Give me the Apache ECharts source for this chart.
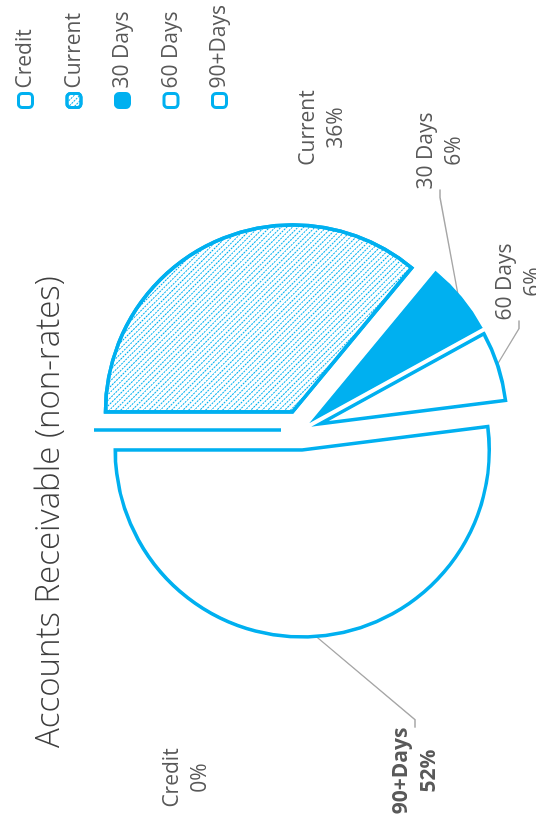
<!DOCTYPE html>
<html>
<head>
<meta charset="utf-8">
<script src="https://cdn.jsdelivr.net/npm/echarts@6/dist/echarts.min.js"></script>
<style>
  html, body { margin: 0; padding: 0; width: 536px; height: 817px; overflow: hidden; background: #fff; }
  /* chart is drawn landscape, then turned a quarter to the left like the reference */
  #chart { position: absolute; left: 0; top: 0; width: 817px; height: 536px;
           transform-origin: 0 0; transform: translateY(817px) rotate(-90deg); }
</style>
</head>
<body>
<div id="chart"></div>
<script>
  const categories = ['Credit', 'Current', '30 Days', '60 Days', '90+Days'];
  const values = [0, 36, 6, 6, 52];

  const blue = '#00B0F0';
  const grey = '#595959';

  // label anchors (landscape px), Excel put them by hand
  const labelSpots = [[39, 186], [689, 322], [666, 440], [535, 519], [46, 415]];

  const fills = {
    'Credit': { color: '#fff' },
    'Current': { color: '#fff', decal: { symbol: 'rect', symbolSize: 1, dashArrayX: [1.6, 0.9], dashArrayY: [1, 2.2], rotation: Math.PI / 4, color: blue } },
    '30 Days': { color: blue },
    '60 Days': { color: '#fff' },
    '90+Days': { color: '#fff' }
  };

  let myChart = echarts.init(document.getElementById('chart'));
  let option = {
    backgroundColor: '#fff',
    title: {
      text: 'Accounts Receivable (non-rates)',
      left: 64,
      top: 28,
      textStyle: { fontFamily: 'Open Sans', fontSize: 33, fontWeight: 300, color: '#404040' }
    },
    legend: {
      orient: 'vertical',
      left: 703,
      top: 10,
      itemWidth: 14,
      itemHeight: 14,
      itemGap: 27.5,
      icon: 'roundRect',
      data: categories,
      itemStyle: { borderWidth: 3 },
      textStyle: { fontFamily: 'Open Sans', fontSize: 21, color: grey },
      selectedMode: false
    },
    series: [{
      // the exploded slices
      type: 'pie',
      center: [387, 301],
      radius: 187,
      startAngle: 90,
      clockwise: true,
      selectedMode: 'multiple',
      selectedOffset: 20,
      emphasis: { disabled: true },
      animation: false,
      itemStyle: { borderColor: blue, borderWidth: 3.5, borderJoin: 'miter', borderCap: 'round' },
      label: { show: false },
      labelLine: { show: false },
      data: categories.map(function (name, i) {
        return { name: name, value: values[i], selected: true, itemStyle: fills[name] };
      })
    }, {
      // same data, carries the data labels (selected state would pin them)
      type: 'pie',
      center: [387, 301],
      radius: 205,
      startAngle: 90,
      clockwise: true,
      silent: true,
      animation: false,
      selectedMode: false,
      emphasis: { disabled: true },
      itemStyle: { color: 'rgba(0,0,0,0)', borderWidth: 0 },
      label: {
        formatter: '{b}\n{d}%',
        fontFamily: 'Open Sans',
        fontSize: 21,
        lineHeight: 28,
        color: grey,
        align: 'center'
      },
      labelLine: { lineStyle: { color: '#A6A6A6', width: 1.3 }, length: 20, length2: 8 },
      labelLayout: function (params) {
        const p = labelSpots[params.dataIndex];
        return { x: p[0], y: p[1], align: 'center', verticalAlign: 'middle' };
      },
      data: categories.map(function (name, i) {
        return {
          name: name,
          value: values[i],
          label: name === '90+Days' ? { fontWeight: 'bold' } : {},
          labelLine: { show: name === '30 Days' || name === '60 Days' || name === '90+Days' }
        };
      })
    }]
  };
  myChart.setOption(option, true);
</script>
</body>
</html>
